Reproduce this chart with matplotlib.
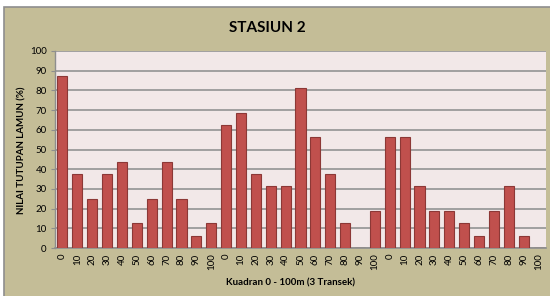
import matplotlib
matplotlib.use("Agg")
import matplotlib.pyplot as plt
from matplotlib.patches import Rectangle

plt.rcParams['font.family'] = ['Lato', 'DejaVu Sans']

transek1 = [87.5, 37.5, 25, 37.5, 43.75, 12.5, 25, 43.75, 25, 6.25, 12.5]
transek2 = [62.5, 68.75, 37.5, 31.25, 31.25, 81.25, 56.25, 37.5, 12.5, 0, 18.75]
transek3 = [56.25, 56.25, 31.25, 18.75, 18.75, 12.5, 6.25, 18.75, 31.25, 6.25, 0]
quadrants = ['0', '10', '20', '30', '40', '50', '60', '70', '80', '90', '100']

values = transek1 + transek2 + transek3
labels = quadrants * 3
x = list(range(len(values)))

W, H = 550, 296
fig = plt.figure(figsize=(W / 100, H / 100), dpi=100)
fig.patch.set_facecolor('white')
# khaki chart area
bg = Rectangle((4 / W, -0.01), 1, 1.01 - 7 / H, transform=fig.transFigure,
               facecolor='#C4BD97', edgecolor='#8E8E8E', linewidth=1.2, zorder=-5)
fig.add_artist(bg)

ax = fig.add_axes([55 / W, 1 - 248 / H, (546 - 55) / W, (248 - 51) / H])
ax.set_zorder(2)
ax.set_facecolor('#F2E8E8')
ax.bar(x, values, width=0.68, color='#C0504D', edgecolor='#8C3836', linewidth=0.8, zorder=3)
ax.set_xlim(-0.5, len(values) - 0.5)
ax.set_ylim(0, 100)
ax.set_yticks(range(0, 101, 10))
ax.yaxis.grid(True, color='#9A9A9A', linewidth=1.3, zorder=0)
ax.set_axisbelow(True)
ax.set_xticks(x)
ax.set_xticklabels(labels, rotation=90, fontsize=7)
ax.tick_params(axis='y', labelsize=7, length=3, color='#8E8E8E', pad=3)
ax.tick_params(axis='x', length=0, pad=4)
for s in ['top', 'right']:
    ax.spines[s].set_visible(False)
ax.spines['left'].set_color('#8E8E8E')
ax.spines['bottom'].set_color('#8E8E8E')
ax.spines['left'].set_linewidth(1.0)
ax.spines['bottom'].set_linewidth(1.2)

fig.text(267 / W, 1 - 28 / H, 'STASIUN 2', ha='center', va='center',
         fontsize=11, fontweight='bold')
fig.text(291 / W, 1 - 283 / H, 'Kuadran 0 - 100m (3 Transek)', ha='center', va='center',
         fontsize=7, fontweight='bold')
fig.text(22 / W, 1 - 150 / H, 'NILAI TUTUPAN LAMUN (%)', ha='center', va='center',
         rotation=90, fontsize=7, fontweight='bold')

fig.savefig('out.png', dpi=100, facecolor=fig.get_facecolor())
